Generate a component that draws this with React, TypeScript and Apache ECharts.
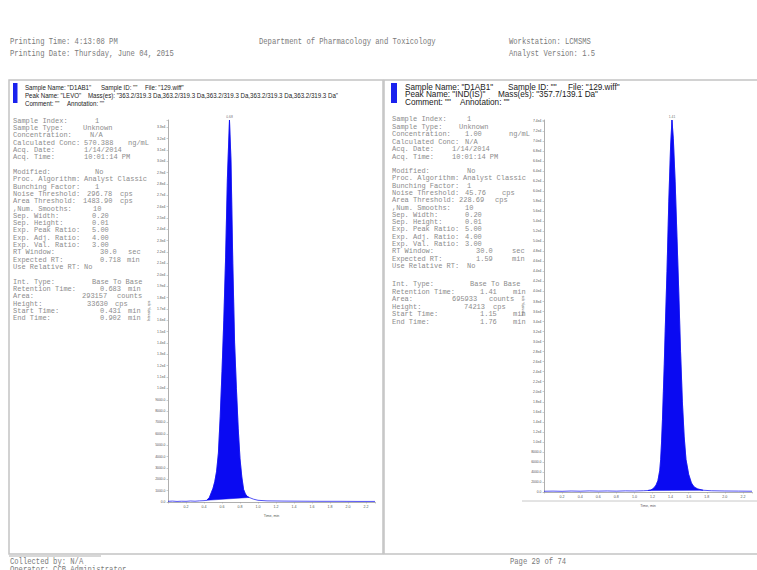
import React, { useEffect, useRef } from "react";
import * as echarts from "echarts";

const W = 757;
const H = 570;

// ---------- Data: left chromatogram (LEVO) ----------
const levoTimes = [0, 0.05, 0.1, 0.15, 0.2, 0.25, 0.3, 0.35, 0.4, 0.431, 0.46, 0.48, 0.5, 0.52, 0.54, 0.56, 0.58, 0.6, 0.62, 0.64, 0.66, 0.683, 0.7, 0.72, 0.74, 0.76, 0.78, 0.8, 0.82, 0.84, 0.86, 0.88, 0.902, 0.95, 1.0, 1.1, 1.3, 1.5, 1.7, 1.9, 2.1, 2.3];
const levoIntensity = [60, 80, 50, 70, 60, 90, 70, 100, 120, 150, 400, 800, 1200, 1800, 2700, 4300, 7500, 11500, 16000, 21500, 28500, 33630, 30000, 21000, 14000, 10000, 6500, 3800, 2200, 1100, 700, 500, 400, 250, 150, 100, 80, 70, 60, 60, 50, 50];
const levoRT = 0.683;
const levoStart = 0.431;
const levoEnd = 0.902;
const levoHeight = 33630;
const levoApexLabel = "0.68";

// ---------- Data: right chromatogram (IND(IS)) ----------
const indTimes = [0, 0.1, 0.2, 0.3, 0.4, 0.5, 0.6, 0.7, 0.8, 0.9, 1.0, 1.1, 1.15, 1.18, 1.2, 1.22, 1.24, 1.26, 1.28, 1.29, 1.3, 1.31, 1.32, 1.33, 1.34, 1.36, 1.38, 1.4, 1.415, 1.43, 1.45, 1.47, 1.49, 1.51, 1.53, 1.55, 1.57, 1.6, 1.63, 1.66, 1.7, 1.76, 1.85, 2.0, 2.15, 2.3];
const indIntensity = [150, 180, 140, 200, 160, 220, 180, 210, 170, 230, 200, 260, 300, 400, 600, 900, 1400, 2300, 4300, 6500, 10000, 14500, 20000, 25500, 32000, 44000, 58000, 69000, 74213, 70500, 62000, 51000, 40000, 28000, 18000, 11000, 6500, 3500, 1800, 1000, 600, 350, 250, 200, 180, 150];
const indRT = 1.415;
const indStart = 1.15;
const indEnd = 1.76;
const indHeight = 74213;
const indApexLabel = "1.41";

// axis settings
const xMin = 0;
const xMax = 2.3;
const xInterval = 0.2;
const levoYInterval = 1000;
const indYInterval = 2000;

// ---------- Text content ----------
const headerLeft = ["Printing Time: 4:13:08 PM", "Printing Date: Thursday, June 04, 2015"];
const headerCenter = "Department of Pharmacology and Toxicology";
const headerRight = ["Workstation: LCMSMS", "Analyst Version: 1.5"];
const footerLeft = ["Collected by: N/A", "Operator: CCB Administrator"];
const footerCenter = "Page 29 of 74";

// [text, x] segments per header line
type Seg = [string, number];
const leftHeader: Seg[][] = [
  [['Sample Name: "D1AB1"', 25], ['Sample ID: ""', 101], ['File: "129.wiff"', 145]],
  [['Peak Name: "LEVO"', 25], ['Mass(es): "363.2/319.3 Da,363.2/319.3 Da,363.2/319.3 Da,363.2/319.3 Da,363.2/319.3 Da"', 88]],
  [['Comment: ""', 25], ['Annotation: ""', 67]],
];
const rightHeader: Seg[][] = [
  [['Sample Name: "D1AB1"', 405], ['Sample ID: ""', 508], ['File: "129.wiff"', 568]],
  [['Peak Name: "IND(IS)"', 405], ['Mass(es): "357.7/139.1 Da"', 498]],
  [['Comment: ""', 405], ['Annotation: ""', 460]],
];

// [label, value, valueX, unit, unitX]
type Row = [string, string, number, string, number];
const leftInfo: Row[][] = [
  [
    ["Sample Index:", "1", 95, "", 0],
    ["Sample Type:", "Unknown", 83, "", 0],
    ["Concentration:", "N/A", 90, "", 0],
    ["Calculated Conc:", "570.388", 84, "ng/mL", 128],
    ["Acq. Date:", "1/14/2014", 84, "", 0],
    ["Acq. Time:", "10:01:14 PM", 84, "", 0],
  ],
  [
    ["Modified:", "No", 95, "", 0],
    ["Proc. Algorithm:", "Analyst Classic", 84, "", 0],
    ["Bunching Factor:", "1", 95, "", 0],
    ["Noise Threshold:", "296.78", 87, "cps", 120],
    ["Area Threshold:", "1483.90", 83, "cps", 120],
    [",Num. Smooths:", "10", 93, "", 0],
    ["Sep. Width:", "0.20", 92, "", 0],
    ["Sep. Height:", "0.01", 92, "", 0],
    ["Exp. Peak Ratio:", "5.00", 92, "", 0],
    ["Exp. Adj. Ratio:", "4.00", 92, "", 0],
    ["Exp. Val. Ratio:", "3.00", 92, "", 0],
    ["RT Window:", "30.0", 100, "sec", 128],
    ["Expected RT:", "0.718", 100, "min", 127],
    ["Use Relative RT:", "No", 84, "", 0],
  ],
  [
    ["Int. Type:", "Base To Base", 92, "", 0],
    ["Retention Time:", "0.683", 100, "min", 128],
    ["Area:", "293157", 82, "counts", 117],
    ["Height:", "33630", 87, "cps", 115],
    ["Start Time:", "0.431", 100, "min", 128],
    ["End Time:", "0.902", 100, "min", 128],
  ],
];
const rightInfo: Row[][] = [
  [
    ["Sample Index:", "1", 467, "", 0],
    ["Sample Type:", "Unknown", 459, "", 0],
    ["Concentration:", "1.00", 465, "ng/mL", 509],
    ["Calculated Conc:", "N/A", 465, "", 0],
    ["Acq. Date:", "1/14/2014", 452, "", 0],
    ["Acq. Time:", "10:01:14 PM", 452, "", 0],
  ],
  [
    ["Modified:", "No", 467, "", 0],
    ["Proc. Algorithm:", "Analyst Classic", 463, "", 0],
    ["Bunching Factor:", "1", 467, "", 0],
    ["Noise Threshold:", "45.76", 465, "cps", 502],
    ["Area Threshold:", "228.69", 459, "cps", 495],
    [",Num. Smooths:", "10", 465, "", 0],
    ["Sep. Width:", "0.20", 465, "", 0],
    ["Sep. Height:", "0.01", 465, "", 0],
    ["Exp. Peak Ratio:", "5.00", 465, "", 0],
    ["Exp. Adj. Ratio:", "4.00", 465, "", 0],
    ["Exp. Val. Ratio:", "3.00", 465, "", 0],
    ["RT Window:", "30.0", 476, "sec", 512],
    ["Expected RT:", "1.59", 476, "min", 512],
    ["Use Relative RT:", "No", 467, "", 0],
  ],
  [
    ["Int. Type:", "Base To Base", 470, "", 0],
    ["Retention Time:", "1.41", 480, "min", 513],
    ["Area:", "695933", 452, "counts", 489],
    ["Height:", "74213", 464, "cps", 493],
    ["Start Time:", "1.15", 480, "min", 513],
    ["End Time:", "1.76", 480, "min", 513],
  ],
];

const BLUE = "#0a0af2";
const GRAY_TXT = "#8c8c8c";
const MONO = '"Liberation Mono", "DejaVu Sans Mono", monospace';
const SANS = '"Liberation Sans", Arial, sans-serif';

function monoText(x: number, y: number, text: string, size: number, color: string, scaleX = 1) {
  return {
    type: "text",
    x,
    y,
    scaleX,
    silent: true,
    style: { text, fill: color, font: `${size}px ${MONO}`, verticalAlign: "middle" },
  };
}
function sansText(x: number, y: number, text: string, size: number, color: string, scaleX = 1) {
  return {
    type: "text",
    x,
    y,
    scaleX,
    silent: true,
    style: { text, fill: color, font: `${size}px ${SANS}`, verticalAlign: "middle" },
  };
}

function headerGraphics(lines: Seg[][], ys: number[], size: number, scaleX: number) {
  const out: any[] = [];
  lines.forEach((segs, li) => {
    segs.forEach(([t, x]) => out.push(sansText(x, ys[li], t, size, "#222", scaleX)));
  });
  return out;
}

function infoGraphics(groups: Row[][], labelX: number, starts: number[], lhs: number[]) {
  const out: any[] = [];
  groups.forEach((g, gi) => {
    g.forEach((r, i) => {
      const y = starts[gi] + i * lhs[gi];
      out.push(monoText(labelX, y, r[0], 7, GRAY_TXT));
      if (r[1]) out.push(monoText(r[2], y, r[1], 7, GRAY_TXT));
      if (r[3]) out.push(monoText(r[4], y, r[3], 7, GRAY_TXT));
    });
  });
  return out;
}

const isMultiple = (v: number, step: number) => Math.abs(v / step - Math.round(v / step)) < 1e-6;
const fmtY = (step: number) => (v: number) => {
  if (!isMultiple(v, step)) return "";
  return v >= 10000 ? (v / 10000).toFixed(1) + "e4" : v.toFixed(1);
};
const fmtX = (v: number) => (v < 0.01 || !isMultiple(v, xInterval) ? "" : v.toFixed(1));

function peakPolygonSeries(times: number[], vals: number[], start: number, end: number, idx: number) {
  const ft: number[] = [];
  const fv: number[] = [];
  times.forEach((t, i) => {
    if (t >= start - 1e-9 && t <= end + 1e-9) {
      ft.push(t);
      fv.push(vals[i]);
    }
  });
  return {
    type: "custom",
    coordinateSystem: "cartesian2d",
    xAxisIndex: idx,
    yAxisIndex: idx,
    silent: true,
    z: 2,
    data: [[start, 0]],
    renderItem: (_p: any, api: any) => ({
      type: "polygon",
      shape: { points: ft.map((t, i) => api.coord([t, fv[i]])) },
      style: { fill: BLUE, stroke: BLUE, lineWidth: 0.5 },
    }),
  };
}

function axisX(idx: number) {
  return {
    type: "value",
    gridIndex: idx,
    min: xMin,
    max: xMax,
    interval: xInterval,
    name: "Time, min",
    nameLocation: "middle",
    nameGap: 8,
    nameTextStyle: { fontSize: 3.6, color: "#555", fontFamily: SANS },
    axisLine: { show: true, lineStyle: { color: "#9a9a9a", width: 0.8 } },
    axisTick: { show: true, length: 1.5, lineStyle: { color: "#9a9a9a", width: 0.5 } },
    axisLabel: { fontSize: 3.6, margin: 3, color: "#555", fontFamily: SANS, formatter: fmtX },
    splitLine: { show: false },
  };
}
function axisY(idx: number, max: number, step: number, nameGap: number) {
  return {
    type: "value",
    gridIndex: idx,
    min: 0,
    max,
    interval: step,
    name: "Intensity, cps",
    nameLocation: "middle",
    nameRotate: 90,
    nameGap,
    nameTextStyle: { fontSize: 3.6, color: "#555", fontFamily: SANS },
    axisLine: { show: true, lineStyle: { color: "#9a9a9a", width: 0.8 } },
    axisTick: { show: true, length: 1.5, lineStyle: { color: "#9a9a9a", width: 0.5 } },
    axisLabel: { fontSize: 3.4, margin: 2.5, color: "#555", fontFamily: SANS, formatter: fmtY(step) },
    splitLine: { show: false },
  };
}

export default function App() {
  const ref = useRef<HTMLDivElement>(null);
  useEffect(() => {
    if (!ref.current) return;
    const chart = echarts.init(ref.current, undefined, { renderer: "svg", width: W, height: H });

    const graphics: any[] = [
      { type: "rect", silent: true, z: -10, shape: { x: 0, y: 0, width: W, height: H }, style: { fill: "#ffffff" } },
      // top header
      monoText(10, 41, headerLeft[0], 9, "#7a7a7a", 0.8),
      monoText(10, 53, headerLeft[1], 9, "#7a7a7a", 0.8),
      monoText(259, 41, headerCenter, 9, "#7a7a7a", 0.8),
      monoText(509, 41, headerRight[0], 9, "#7a7a7a", 0.8),
      monoText(509, 53, headerRight[1], 9, "#7a7a7a", 0.8),
      // panels
      { type: "rect", silent: true, shape: { x: 9, y: 80, width: 374, height: 474 }, style: { fill: "none", stroke: "#c4c4c4", lineWidth: 1.5 } },
      { type: "rect", silent: true, shape: { x: 384, y: 80, width: 390, height: 474 }, style: { fill: "none", stroke: "#c4c4c4", lineWidth: 1.5 } },
      { type: "line", silent: true, shape: { x1: 9, y1: 556, x2: 101, y2: 556 }, style: { stroke: "#b0b0b0", lineWidth: 1 } },
      { type: "line", silent: true, shape: { x1: 522, y1: 501, x2: 757, y2: 501 }, style: { stroke: "#c8c8c8", lineWidth: 1 } },
      // blue markers
      { type: "rect", silent: true, shape: { x: 13, y: 83, width: 4.5, height: 20 }, style: { fill: "#1a22ee" } },
      { type: "rect", silent: true, shape: { x: 391, y: 83, width: 6, height: 20 }, style: { fill: "#1a22ee" } },
      // panel headers
      ...headerGraphics(leftHeader, [87, 95, 103], 7, 0.88),
      ...headerGraphics(rightHeader, [87, 94.5, 102], 8.2, 1),
      // info blocks
      ...infoGraphics(leftInfo, 13, [121, 172, 282], [7.2, 7.3, 7.2]),
      ...infoGraphics(rightInfo, 392, [119, 171, 284], [7.5, 7.3, 7.5]),
      // footer
      monoText(10, 561, footerLeft[0], 9, "#7a7a7a", 0.8),
      monoText(10, 569, footerLeft[1], 9, "#7a7a7a", 0.8),
      monoText(510, 561, footerCenter, 9, "#7a7a7a", 0.8),
    ];

    const apexLabel = (txt: string) => ({
      show: true,
      position: "top",
      distance: 1.5,
      formatter: txt,
      fontSize: 3.4,
      color: "#444",
      fontFamily: SANS,
    });

    chart.setOption({
      animation: false,
      backgroundColor: "#ffffff",
      graphic: { elements: graphics },
      grid: [
        { left: 168, top: 120, width: 207, height: 382, outerBoundsMode: "none" },
        { left: 544, top: 120, width: 208, height: 372, outerBoundsMode: "none" },
      ],
      xAxis: [axisX(0), axisX(1)],
      yAxis: [axisY(0, levoHeight, levoYInterval, 17), axisY(1, indHeight, indYInterval, 19)],
      series: [
        peakPolygonSeries(levoTimes, levoIntensity, levoStart, levoEnd, 0),
        {
          type: "line",
          xAxisIndex: 0,
          yAxisIndex: 0,
          data: levoTimes.map((t, i) => [t, levoIntensity[i]]),
          showSymbol: false,
          symbol: "none",
          silent: true,
          z: 3,
          lineStyle: { color: BLUE, width: 0.7 },
        },
        {
          type: "scatter",
          xAxisIndex: 0,
          yAxisIndex: 0,
          symbolSize: 0,
          silent: true,
          data: [[levoRT, levoHeight]],
          label: apexLabel(levoApexLabel),
        },
        peakPolygonSeries(indTimes, indIntensity, indStart, indEnd, 1),
        {
          type: "line",
          xAxisIndex: 1,
          yAxisIndex: 1,
          data: indTimes.map((t, i) => [t, indIntensity[i]]),
          showSymbol: false,
          symbol: "none",
          silent: true,
          z: 3,
          lineStyle: { color: BLUE, width: 0.7 },
        },
        {
          type: "scatter",
          xAxisIndex: 1,
          yAxisIndex: 1,
          symbolSize: 0,
          silent: true,
          data: [[indRT, indHeight]],
          label: apexLabel(indApexLabel),
        },
      ],
    });
    return () => chart.dispose();
  }, []);

  return (
    <div
      ref={ref}
      style={{ position: "fixed", left: 0, top: 0, width: W, height: H, background: "#fff" }}
    />
  );
}
